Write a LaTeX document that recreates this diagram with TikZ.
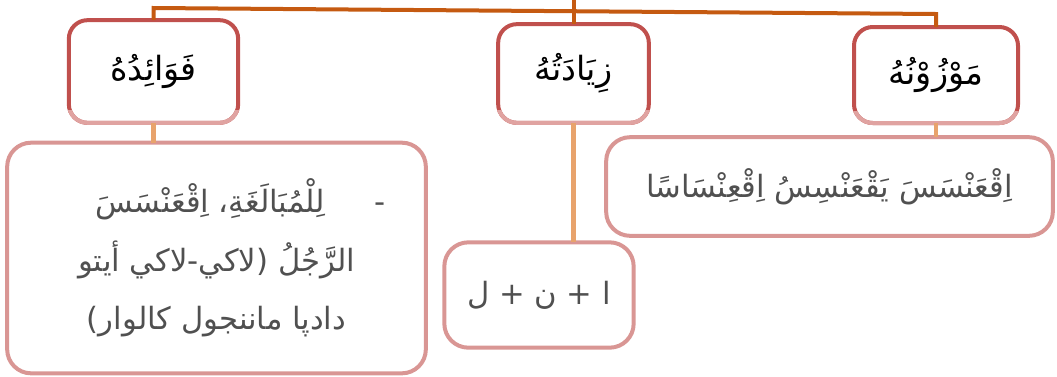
\documentclass[tikz,border=0pt]{standalone}
\usepackage{fontspec}
\newfontfamily\arabicfont[Script=Arabic]{DejaVu Sans}
\TeXXeTstate=1

\definecolor{boxred}{HTML}{C0504D}
\definecolor{boxpink}{HTML}{D99694}
\definecolor{fadepink}{HTML}{E0A3A1}
\definecolor{linkorange}{HTML}{C55A11}
\definecolor{linkpeach}{HTML}{E8A36C}
\definecolor{textgray}{HTML}{505050}

\tikzset{
  topbox/.style={draw=boxred, line width=3pt, rounded corners=14pt, outer sep=0pt,
    fill=white, font=\arabicfont\fontsize{25}{30}\selectfont},
  subbox/.style={draw=boxpink, line width=3pt, rounded corners=18pt, outer sep=0pt,
    text=textgray, align=center, font=\arabicfont\fontsize{23}{44}\selectfont},
  toplink/.style={draw=linkorange, line width=3pt},
  sublink/.style={draw=linkpeach, line width=3.5pt},
}

\begin{document}
\begin{tikzpicture}[x=0.75pt,y=-0.75pt]
\useasboundingbox (0,0) rectangle (1057,376);

% heads
\node[topbox, minimum width=127pt, minimum height=77pt] (fawaid) at (153.5,71.5)
  {\beginR فَوَائِدُهُ\endR};
\node[topbox, minimum width=113pt, minimum height=74pt] (zayadah) at (573.5,73.5)
  {\beginR زِيَادَتُهُ\endR};
\node[topbox, minimum width=123pt, minimum height=72pt] (mawzunah) at (936,75)
  {\beginR مَوْزُوْنُهُ\endR};

% lighter lower edge of the heads
\foreach \n in {fawaid,zayadah,mawzunah}{
  \begin{scope}
    \clip ([xshift=-3pt,yshift=9pt]\n.south west) rectangle ([xshift=3pt,yshift=-3pt]\n.south east);
    \draw[draw=fadepink, line width=3pt, rounded corners=14pt] (\n.south west) rectangle (\n.north east);
  \end{scope}
}

% details
\node[subbox, minimum width=314pt, minimum height=173pt] (leftbox) at (216.5,258)
  {\hspace*{36pt}\hbox{\beginR -\hspace{1.6em}لِلْمُبَالَغَةِ، اِقْعَنْسَسَ\endR}\\
   \hbox{\beginR الرَّجُلُ \hbox{(}لاكي-لاكي أيتو\endR}\\
   \hbox{\beginR دادپا ماننجول كالوار\hbox{)}\endR}};
\node[subbox, minimum width=142pt, minimum height=79pt] (midbox) at (539,295)
  {\beginR ا + ن + ل\endR};
\node[subbox, minimum width=335pt, minimum height=74pt] (rightbox) at (829.5,186.5)
  {\beginR اِقْعَنْسَسَ يَقْعَنْسِسُ اِقْعِنْسَاسًا\endR};

% connectors
\coordinate (root) at (573.5,0);
\coordinate (busL) at (153.5,8);
\coordinate (busR) at (936,14);
\draw[toplink] (zayadah.north) -- (root);
\draw[toplink] (fawaid.north) -- (busL) -- (busR) -- (mawzunah.north);

\draw[sublink] (fawaid.south) -- (fawaid.south |- leftbox.north);
\draw[sublink] (zayadah.south) -- (zayadah.south |- midbox.north);
\draw[sublink] (mawzunah.south) -- (mawzunah.south |- rightbox.north);

\end{tikzpicture}
\end{document}
